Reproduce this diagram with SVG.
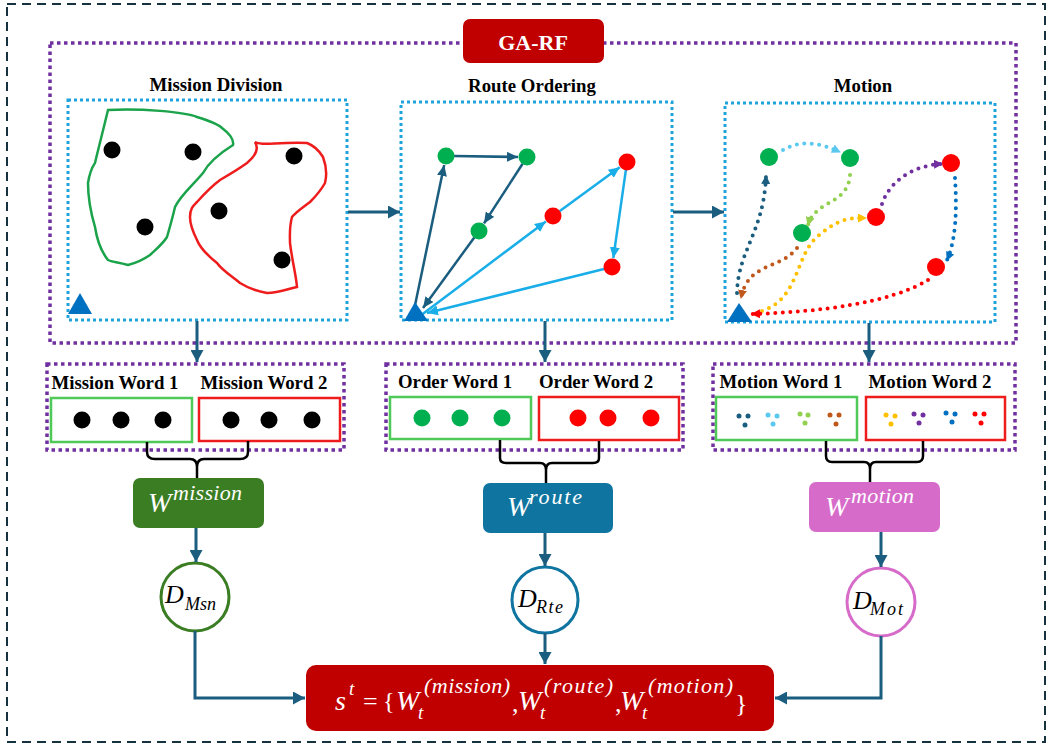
<svg xmlns="http://www.w3.org/2000/svg" width="1049" height="747" viewBox="0 0 1049 747">
  <style>
    .frame { fill: none; stroke: #17323f; stroke-width: 2; stroke-dasharray: 9 6; }
    .pbox { fill: none; stroke: #7030a0; stroke-width: 3.5; stroke-dasharray: 3.5 3.5; }
    .bbox { fill: none; stroke: #1fa3dc; stroke-width: 3; stroke-dasharray: 3 3; }
    .title { font-family: "Liberation Serif", serif; font-weight: bold; font-size: 18.8px; fill: #000; text-anchor: middle; }
    .conn { fill: none; stroke: #1a5d7f; stroke-width: 3; }
    .brace { fill: none; stroke: #000; stroke-width: 2.5; }
    .dk { stroke: #1a5d7f; stroke-width: 2.5; fill: none; }
    .lt { stroke: #19aee8; stroke-width: 2.5; fill: none; }
    .dot { fill: none; stroke-width: 4; stroke-linecap: round; stroke-dasharray: 0 7.5; }
    .math { font-family: "Liberation Serif", serif; font-style: italic; fill: #fff; }
    .mathk { font-family: "Liberation Serif", serif; font-style: italic; fill: #000; }
    .up { font-style: normal; }
  </style>
  <defs>
    <marker id="ah" markerUnits="userSpaceOnUse" markerWidth="13" markerHeight="13" refX="12" refY="6.5" orient="auto">
      <path d="M0,0 L12,6.5 L0,13 z" fill="#1a5d7f"/>
    </marker>
    <marker id="ahDk" markerUnits="userSpaceOnUse" markerWidth="11" markerHeight="10" refX="11" refY="5" orient="auto">
      <path d="M0,0 L11,5 L0,10 z" fill="#1a5d7f"/>
    </marker>
    <marker id="ahLt" markerUnits="userSpaceOnUse" markerWidth="11" markerHeight="10" refX="11" refY="5" orient="auto">
      <path d="M0,0 L11,5 L0,10 z" fill="#19aee8"/>
    </marker>
    <marker id="mTeal" markerUnits="userSpaceOnUse" markerWidth="9" markerHeight="9" refX="8" refY="4.5" orient="auto"><path d="M0,0 L9,4.5 L0,9 z" fill="#1a5d7f"/></marker>
    <marker id="mSky" markerUnits="userSpaceOnUse" markerWidth="9" markerHeight="9" refX="8" refY="4.5" orient="auto"><path d="M0,0 L9,4.5 L0,9 z" fill="#5bc8f0"/></marker>
    <marker id="mLime" markerUnits="userSpaceOnUse" markerWidth="9" markerHeight="9" refX="8" refY="4.5" orient="auto"><path d="M0,0 L9,4.5 L0,9 z" fill="#92d050"/></marker>
    <marker id="mBrown" markerUnits="userSpaceOnUse" markerWidth="9" markerHeight="9" refX="8" refY="4.5" orient="auto"><path d="M0,0 L9,4.5 L0,9 z" fill="#c0571b"/></marker>
    <marker id="mGold" markerUnits="userSpaceOnUse" markerWidth="9" markerHeight="9" refX="8" refY="4.5" orient="auto"><path d="M0,0 L9,4.5 L0,9 z" fill="#ffc000"/></marker>
    <marker id="mPurple" markerUnits="userSpaceOnUse" markerWidth="9" markerHeight="9" refX="8" refY="4.5" orient="auto"><path d="M0,0 L9,4.5 L0,9 z" fill="#7030a0"/></marker>
    <marker id="mBlue" markerUnits="userSpaceOnUse" markerWidth="9" markerHeight="9" refX="8" refY="4.5" orient="auto"><path d="M0,0 L9,4.5 L0,9 z" fill="#0070c0"/></marker>
    <marker id="mRed" markerUnits="userSpaceOnUse" markerWidth="9" markerHeight="9" refX="8" refY="4.5" orient="auto"><path d="M0,0 L9,4.5 L0,9 z" fill="#ff0000"/></marker>
  </defs>

  <rect class="frame" x="7" y="4" width="1038" height="738"/>

  <!-- GA-RF framework panel -->
  <g id="garf">
    <rect class="pbox" x="50" y="43" width="966" height="300"/>
    <rect x="463" y="19" width="141" height="44" rx="7" fill="#c00000"/>
    <text x="533" y="50" font-family="Liberation Serif, serif" font-weight="bold" font-size="22" fill="#fff" text-anchor="middle">GA-RF</text>
  </g>

  <!-- Mission division panel -->
  <g id="mission-division">
    <text class="title" x="216" y="91">Mission Division</text>
    <rect class="bbox" x="68" y="100" width="279" height="220"/>
    <path d="M108,110 C140,108 185,112 197,117 C210,121 218,124 222,128 C230,134 234,140 233,145 C225,150 210,160 203,173 C192,186 180,196 175,207 C172,220 169,230 167,237 C162,245 155,250 150,255 C140,262 132,264 128,265 C118,262 112,262 108,260 C100,250 97,240 95,227 C90,210 88,195 88,183 C90,170 93,166 95,163 C98,150 102,135 108,110 Z" fill="none" stroke="#1aa34a" stroke-width="2.5"/>
    <path d="M255,142 C262,146 275,142 307,143 C315,146 320,152 323,157 C326,165 327,175 325,183 C320,192 314,198 310,202 C302,208 296,212 292,217 C289,228 290,236 290,243 C292,260 296,275 297,287 C288,289 278,293 267,293 C255,291 248,288 240,283 C230,275 222,270 217,263 C207,255 200,248 197,240 C192,230 190,222 190,217 C190,208 194,205 197,202 C205,193 212,186 220,180 C232,173 240,168 247,163 C253,158 260,150 255,142 Z" fill="none" stroke="#ee1c1c" stroke-width="2.5"/>
    <g fill="#000">
      <circle cx="112" cy="150" r="8.5"/>
      <circle cx="193" cy="152" r="8.5"/>
      <circle cx="145" cy="227" r="8.5"/>
      <circle cx="294" cy="156" r="8.5"/>
      <circle cx="219" cy="211" r="8.5"/>
      <circle cx="282" cy="260" r="8.5"/>
    </g>
    <polygon points="68,314 92,314 80,293" fill="#0070c0"/>
  </g>

  <!-- Route ordering panel -->
  <g id="route-ordering">
    <text class="title" x="532" y="92">Route Ordering</text>
    <rect class="bbox" x="401" y="102" width="271" height="218"/>
    <line class="dk" x1="413" y1="315" x2="444.2" y2="165" marker-end="url(#ahDk)"/>
    <line class="dk" x1="454" y1="156" x2="518" y2="157" marker-end="url(#ahDk)"/>
    <line class="dk" x1="522.6" y1="163.7" x2="484" y2="223.4" marker-end="url(#ahDk)"/>
    <line class="dk" x1="474.3" y1="237.4" x2="423" y2="308" marker-end="url(#ahDk)"/>
    <line class="lt" x1="420" y1="316" x2="545.8" y2="221.4" marker-end="url(#ahLt)"/>
    <line class="lt" x1="559.5" y1="211.3" x2="619.7" y2="167.3" marker-end="url(#ahLt)"/>
    <line class="lt" x1="625.9" y1="169.9" x2="613.3" y2="258.1" marker-end="url(#ahLt)"/>
    <line class="lt" x1="604" y1="269" x2="427" y2="313" marker-end="url(#ahLt)"/>
    <g fill="#00b050">
      <circle cx="446" cy="156" r="8.5"/>
      <circle cx="527" cy="157" r="8.5"/>
      <circle cx="479" cy="231" r="8.5"/>
    </g>
    <g fill="#ff0000">
      <circle cx="627" cy="162" r="8.5"/>
      <circle cx="553" cy="216" r="8.5"/>
      <circle cx="612" cy="267" r="8.5"/>
    </g>
    <polygon points="404,321 428,321 415,302" fill="#0070c0"/>
  </g>

  <!-- Motion panel -->
  <g id="motion">
    <text class="title" x="863" y="92">Motion</text>
    <rect class="bbox" x="725" y="103" width="270" height="219"/>
    <path class="dot" stroke="#1a5d7f" d="M737,293 C738,250 764,232 766,176" marker-end="url(#mTeal)"/>
    <path class="dot" stroke="#5bc8f0" d="M783,150 Q806,136 840,152" marker-end="url(#mSky)"/>
    <path class="dot" stroke="#92d050" d="M850,175 C848,205 815,200 808,225" marker-end="url(#mLime)"/>
    <path class="dot" stroke="#c0571b" d="M797,248 C780,270 748,262 741,298" marker-end="url(#mBrown)"/>
    <path class="dot" stroke="#ffc000" d="M762,311 C800,298 795,255 818,236 S850,218 866,218" marker-end="url(#mGold)"/>
    <path class="dot" stroke="#7030a0" d="M882,204 C890,180 915,165 942,164" marker-end="url(#mPurple)"/>
    <path class="dot" stroke="#0070c0" d="M955,178 C957,210 956,240 947,260" marker-end="url(#mBlue)"/>
    <path class="dot" stroke="#ff0000" d="M928,280 C890,303 820,312 752,314" marker-end="url(#mRed)"/>
    <g fill="#00b050">
      <circle cx="769" cy="157" r="9"/>
      <circle cx="850" cy="158" r="9"/>
      <circle cx="802" cy="233" r="9"/>
    </g>
    <g fill="#ff0000">
      <circle cx="951" cy="163" r="9"/>
      <circle cx="876" cy="217" r="9"/>
      <circle cx="936" cy="267" r="9"/>
    </g>
    <polygon points="727,322 752,322 739,303" fill="#0070c0"/>
  </g>

  <!-- Mission words -->
  <g id="mission-words">
    <rect class="pbox" x="47" y="364" width="297" height="86"/>
    <text class="title" x="115" y="389">Mission Word 1</text>
    <text class="title" x="264" y="389">Mission Word 2</text>
    <rect x="51" y="398" width="141" height="44" fill="none" stroke="#4fc957" stroke-width="2.5"/>
    <rect x="199" y="398" width="141" height="43" fill="none" stroke="#ee1c1c" stroke-width="2.5"/>
    <g fill="#000">
      <circle cx="82" cy="420" r="8.5"/>
      <circle cx="121" cy="420" r="8.5"/>
      <circle cx="163" cy="420" r="8.5"/>
      <circle cx="231" cy="420" r="8.5"/>
      <circle cx="269" cy="420" r="8.5"/>
      <circle cx="312" cy="420" r="8.5"/>
    </g>
  </g>

  <!-- Order words -->
  <g id="order-words">
    <rect class="pbox" x="386" y="364" width="297" height="86"/>
    <text class="title" x="455" y="388">Order Word 1</text>
    <text class="title" x="596" y="388">Order Word 2</text>
    <rect x="390" y="397" width="141" height="42" fill="none" stroke="#4fc957" stroke-width="2.5"/>
    <rect x="539" y="397" width="140" height="43" fill="none" stroke="#ee1c1c" stroke-width="2.5"/>
    <g fill="#00b050">
      <circle cx="422" cy="418" r="8.5"/>
      <circle cx="460" cy="418" r="8.5"/>
      <circle cx="502" cy="418" r="8.5"/>
    </g>
    <g fill="#ff0000">
      <circle cx="578" cy="418" r="8.5"/>
      <circle cx="608" cy="418" r="8.5"/>
      <circle cx="651" cy="418" r="8.5"/>
    </g>
  </g>

  <!-- Motion words -->
  <g id="motion-words">
    <rect class="pbox" x="713" y="364" width="302" height="86"/>
    <text class="title" x="781" y="388">Motion Word 1</text>
    <text class="title" x="930" y="388">Motion Word 2</text>
    <rect x="716" y="397" width="141" height="43" fill="none" stroke="#4fc957" stroke-width="2.5"/>
    <rect x="866" y="397" width="139" height="43" fill="none" stroke="#ee1c1c" stroke-width="2.5"/>
    <g fill="#1a5d7f"><circle cx="739" cy="416" r="2.5"/><circle cx="748" cy="416" r="2.5"/><circle cx="745" cy="425" r="2.5"/></g>
    <g fill="#5bc8f0"><circle cx="768" cy="415" r="2.5"/><circle cx="777" cy="416" r="2.5"/><circle cx="773" cy="424" r="2.5"/></g>
    <g fill="#92d050"><circle cx="800" cy="414" r="2.5"/><circle cx="808" cy="415" r="2.5"/><circle cx="805" cy="423" r="2.5"/></g>
    <g fill="#c0571b"><circle cx="830" cy="415" r="2.5"/><circle cx="839" cy="415" r="2.5"/><circle cx="836" cy="424" r="2.5"/></g>
    <g fill="#ffc000"><circle cx="886" cy="415" r="2.5"/><circle cx="895" cy="416" r="2.5"/><circle cx="891" cy="424" r="2.5"/></g>
    <g fill="#7030a0"><circle cx="914" cy="414" r="2.5"/><circle cx="923" cy="415" r="2.5"/><circle cx="919" cy="423" r="2.5"/></g>
    <g fill="#0070c0"><circle cx="946" cy="413" r="2.5"/><circle cx="955" cy="414" r="2.5"/><circle cx="952" cy="422" r="2.5"/></g>
    <g fill="#ff0000"><circle cx="975" cy="414" r="2.5"/><circle cx="984" cy="414" r="2.5"/><circle cx="981" cy="423" r="2.5"/></g>
  </g>

  <!-- Word embeddings -->
  <g id="w-mission">
    <rect x="133" y="478" width="131" height="50" rx="7" fill="#3b7d23"/>
    <text class="math" x="148" y="512" font-size="28">W</text>
    <text class="math" x="173" y="500" font-size="22" textLength="69">mission</text>
  </g>
  <g id="w-route">
    <rect x="483" y="483" width="130" height="50" rx="7" fill="#0f75a0"/>
    <text class="math" x="507" y="516" font-size="28">W</text>
    <text class="math" x="529" y="504" font-size="22" textLength="53">route</text>
  </g>
  <g id="w-motion">
    <rect x="809" y="482" width="131" height="50" rx="7" fill="#d66bca"/>
    <text class="math" x="825" y="516" font-size="28">W</text>
    <text class="math" x="851" y="503" font-size="22" textLength="63">motion</text>
  </g>

  <!-- Discriminators -->
  <g id="d-msn">
    <circle cx="195" cy="597" r="34" fill="#fff" stroke="#3b7d23" stroke-width="3"/>
    <text class="mathk" x="165" y="603" font-size="26">D</text>
    <text class="mathk" x="185" y="610" font-size="18">Msn</text>
  </g>
  <g id="d-rte">
    <circle cx="545" cy="600" r="33" fill="#fff" stroke="#0f75a0" stroke-width="3"/>
    <text class="mathk" x="518" y="607" font-size="26">D</text>
    <text class="mathk" x="536" y="613" font-size="18" textLength="27">Rte</text>
  </g>
  <g id="d-mot">
    <circle cx="881" cy="602" r="34" fill="#fff" stroke="#d66bca" stroke-width="3"/>
    <text class="mathk" x="853" y="609" font-size="26">D</text>
    <text class="mathk" x="870" y="615" font-size="18" textLength="33">Mot</text>
  </g>

  <!-- State vector -->
  <g id="state">
    <rect x="306" y="665" width="468" height="66" rx="10" fill="#c00000"/>
    <text class="math" font-size="28">
      <tspan x="335" y="710">s</tspan>
      <tspan x="349" y="695" font-size="19">t</tspan>
      <tspan class="up" x="363" y="710" font-size="26">=</tspan>
      <tspan class="up" x="383" y="709" font-size="24">{</tspan>
      <tspan x="396" y="710">W</tspan>
      <tspan x="418" y="719" font-size="19">t</tspan>
      <tspan x="424" y="693" font-size="22" textLength="86">(mission)</tspan>
      <tspan class="up" x="512" y="712" font-size="26">,</tspan>
      <tspan x="518" y="710">W</tspan>
      <tspan x="540" y="719" font-size="19">t</tspan>
      <tspan x="544" y="693" font-size="22" textLength="69">(route)</tspan>
      <tspan class="up" x="615" y="712" font-size="26">,</tspan>
      <tspan x="620" y="710">W</tspan>
      <tspan x="642" y="719" font-size="19">t</tspan>
      <tspan x="648" y="693" font-size="22" textLength="85">(motion)</tspan>
      <tspan class="up" x="735" y="712" font-size="26">}</tspan>
    </text>
  </g>

  <!-- Connectors -->
  <g id="connectors">
    <line class="conn" x1="348" y1="212" x2="400" y2="212" marker-end="url(#ah)"/>
    <line class="conn" x1="673" y1="212" x2="724" y2="212" marker-end="url(#ah)"/>
    <line class="conn" x1="197" y1="321" x2="197" y2="362" marker-end="url(#ah)"/>
    <line class="conn" x1="545" y1="321" x2="545" y2="362" marker-end="url(#ah)"/>
    <line class="conn" x1="869" y1="323" x2="869" y2="362" marker-end="url(#ah)"/>
    <path class="brace" d="M147,442 V452 Q147,459 155,459 H190 Q197,459 197,467 V478 M248,441 V452 Q248,459 240,459 H204 Q197,459 197,467"/>
    <path class="brace" d="M500,440 V458 Q500,463 506,463 H540 Q546,463 546,470 V483 M599,441 V458 Q599,463 593,463 H552 Q546,463 546,470"/>
    <path class="brace" d="M826,441 V456 Q826,462 832,462 H864 Q870,462 870,469 V482 M923,441 V456 Q923,462 917,462 H876 Q870,462 870,469"/>
    <line class="conn" x1="196" y1="528" x2="196" y2="562" marker-end="url(#ah)"/>
    <line class="conn" x1="545" y1="533" x2="545" y2="566" marker-end="url(#ah)"/>
    <line class="conn" x1="881" y1="532" x2="881" y2="567" marker-end="url(#ah)"/>
    <path class="conn" d="M195,631 V698 H305" marker-end="url(#ah)"/>
    <line class="conn" x1="545" y1="633" x2="545" y2="664" marker-end="url(#ah)"/>
    <path class="conn" d="M881,636 V698 H775" marker-end="url(#ah)"/>
  </g>
</svg>
